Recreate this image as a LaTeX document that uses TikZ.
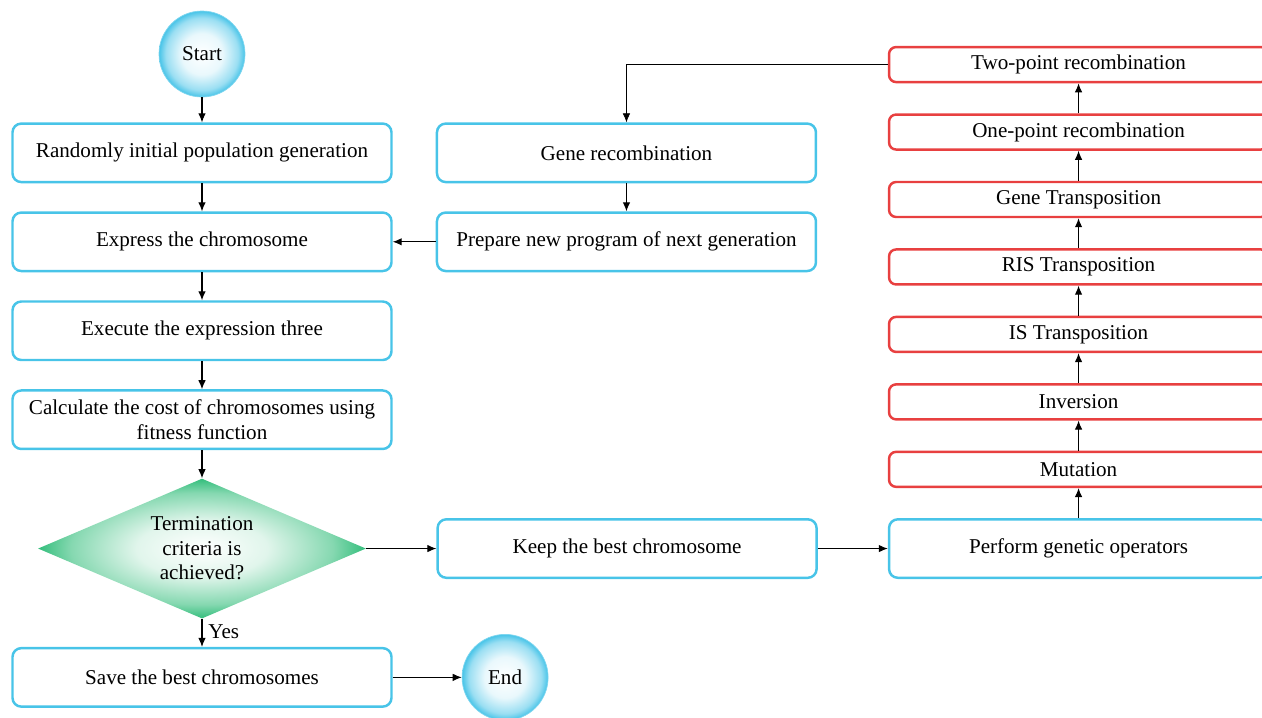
\documentclass[tikz,border=0pt]{standalone}
\usepackage{fontspec}
\setmainfont{Liberation Serif}
\usetikzlibrary{arrows.meta,positioning,shapes.geometric}
\definecolor{boxblue}{RGB}{72,196,232}
\definecolor{boxred}{RGB}{232,64,64}
\definecolor{diagreen}{RGB}{52,190,124}
\pgfdeclareradialshading{glowblue}{\pgfpoint{0cm}{0cm}}{color(0bp)=(white); color(12bp)=(white!88!boxblue); color(21bp)=(white!45!boxblue); color(25bp)=(boxblue); color(50bp)=(boxblue)}
\pgfdeclareradialshading{glowgreen}{\pgfpoint{0cm}{0cm}}{color(0bp)=(white); color(10bp)=(white!85!diagreen); color(20bp)=(white!40!diagreen); color(25bp)=(diagreen); color(50bp)=(diagreen)}

\begin{document}
\begin{tikzpicture}[
node distance=0.56cm,
font=\fontsize{12}{14}\selectfont,
bluebox/.style={draw=boxblue, line width=1.4pt, fill=white, rounded corners=5pt, minimum width=7.58cm, minimum height=1.17cm, align=center},
redbox/.style={draw=boxred, line width=1.4pt, fill=white, rounded corners=4pt, minimum width=7.58cm, minimum height=0.7cm, align=center},
terminal/.style={circle, draw=boxblue!70, shading=glowblue, minimum size=1.72cm},
decision/.style={diamond, aspect=2.34, inner sep=0pt, shading=glowgreen, minimum width=6.56cm, minimum height=2.8cm, align=center},
arrow/.style={-{Latex[length=1.8mm, width=1.5mm]}, line width=0.6pt}
]

\clip (0,0) rectangle (25.24,-14.34);

% main column
\node[terminal] (start) at (4.04,-1.08) {Start};
\node[bluebox, below=0.5cm of start] (init) {Randomly initial population generation};
\node[bluebox, below=of init] (express) {Express the chromosome};
\node[bluebox, below=of express] (execute) {Execute the expression three};
\node[bluebox, below=of execute] (cost) {Calculate the cost of chromosomes using\\fitness function};
\node[decision, below=of cost] (check) {Termination\\criteria is\\achieved?};
\node[bluebox, below=of check] (save) {Save the best chromosomes};
\node[terminal, right=1.38cm of save] (end) {End};

% middle column
\node[bluebox, right=0.86cm of express] (prepare) {Prepare new program of next generation};
\node[bluebox, above=of prepare] (generec) {Gene recombination};
\node[bluebox, right=1.4cm of check] (keep) {Keep the best chromosome};

% genetic operators
\node[bluebox, right=1.4cm of keep] (operators) {Perform genetic operators};
\node[redbox, above=0.6cm of operators] (mutation) {Mutation};
\node[redbox, above=0.6cm of mutation] (inversion) {Inversion};
\node[redbox, above=0.6cm of inversion] (istrans) {IS Transposition};
\node[redbox, above=0.6cm of istrans] (ristrans) {RIS Transposition};
\node[redbox, above=0.6cm of ristrans] (genetrans) {Gene Transposition};
\node[redbox, above=0.6cm of genetrans] (onepoint) {One-point recombination};
\node[redbox, above=0.6cm of onepoint] (twopoint) {Two-point recombination};

\draw[arrow] (start) -- (init);
\draw[arrow] (init) -- (express);
\draw[arrow] (express) -- (execute);
\draw[arrow] (execute) -- (cost);
\draw[arrow] (cost) -- (check);
\draw[arrow] (check) -- node[right, pos=0.45] {Yes} (save);
\draw[arrow] (save) -- (end);
\draw[arrow] (check) -- (keep);
\draw[arrow] (keep) -- (operators);
\draw[arrow] (operators) -- (mutation);
\draw[arrow] (mutation) -- (inversion);
\draw[arrow] (inversion) -- (istrans);
\draw[arrow] (istrans) -- (ristrans);
\draw[arrow] (ristrans) -- (genetrans);
\draw[arrow] (genetrans) -- (onepoint);
\draw[arrow] (onepoint) -- (twopoint);
\draw[arrow, line width=0.4pt] (twopoint.west) -| (generec.north);
\draw[arrow] (generec) -- (prepare);
\draw[arrow] (prepare) -- (express);

\end{tikzpicture}
\end{document}
